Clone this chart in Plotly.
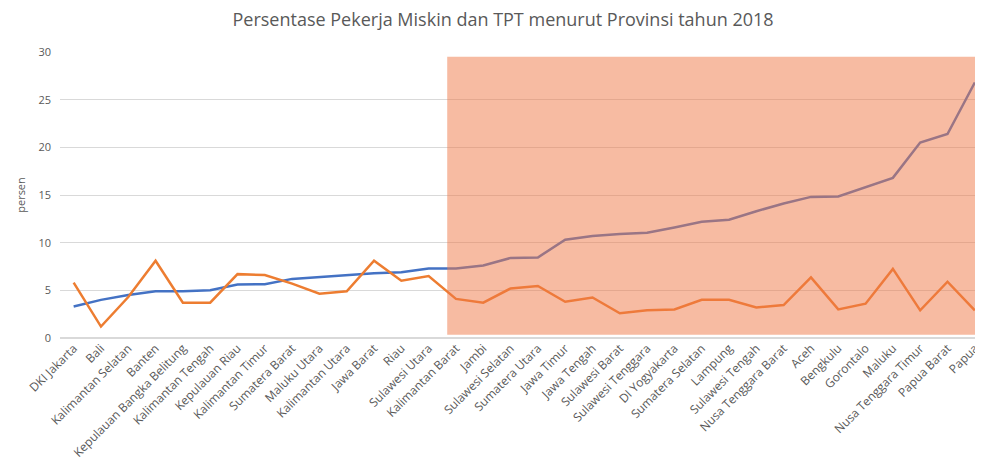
import plotly.graph_objects as go

provinces = [
    "DKI Jakarta", "Bali", "Kalimantan Selatan", "Banten", "Kepulauan Bangka Belitung",
    "Kalimantan Tengah", "Kepulauan Riau", "Kalimantan Timur", "Sumatera Barat", "Maluku Utara",
    "Kalimantan Utara", "Jawa Barat", "Riau", "Sulawesi Utara", "Kalimantan Barat",
    "Jambi", "Sulawesi Selatan", "Sumatera Utara", "Jawa Timur", "Jawa Tengah",
    "Sulawesi Barat", "Sulawesi Tenggara", "DI Yogyakarta", "Sumatera Selatan", "Lampung",
    "Sulawesi Tengah", "Nusa Tenggara Barat", "Aceh", "Bengkulu", "Gorontalo",
    "Maluku", "Nusa Tenggara Timur", "Papua Barat", "Papua",
]

pekerja_miskin = [
    3.3, 4.0, 4.5, 4.9, 4.9, 5.0, 5.6, 5.65, 6.2, 6.4,
    6.6, 6.8, 6.9, 7.3, 7.3, 7.6, 8.4, 8.45, 10.3, 10.7,
    10.9, 11.05, 11.6, 12.2, 12.4, 13.3, 14.1, 14.8, 14.85, 15.8,
    16.8, 20.5, 21.4, 26.8,
]

tpt = [
    5.8, 1.2, 4.3, 8.1, 3.7, 3.7, 6.7, 6.6, 5.7, 4.65,
    4.9, 8.1, 6.0, 6.5, 4.1, 3.7, 5.2, 5.45, 3.8, 4.25,
    2.6, 2.9, 3.0, 4.0, 4.0, 3.2, 3.45, 6.35, 3.0, 3.6,
    7.25, 2.9, 5.9, 2.9,
]

# highlighted range (from Kalimantan Barat to the end)
highlight_start = 13.68
highlight_top = 29.5

text_grey = "#595959"

fig = go.Figure()

fig.add_trace(go.Scatter(
    x=list(range(len(provinces))),
    y=pekerja_miskin,
    mode="lines",
    name="Pekerja Miskin",
    line=dict(color="#4472C4", width=2.5),
))

fig.add_trace(go.Scatter(
    x=list(range(len(provinces))),
    y=tpt,
    mode="lines",
    name="TPT",
    line=dict(color="#ED7D31", width=2.5),
))

fig.add_shape(
    type="rect",
    xref="x", yref="y",
    x0=highlight_start, x1=34,
    y0=0.35, y1=highlight_top,
    fillcolor="rgba(240,120,70,0.5)",
    line=dict(width=0),
    layer="above",
)

# the page body has an 8px margin, so the figure is a bit smaller than the window
fig.update_layout(
    width=975,
    height=468,
    template="plotly_white",
    plot_bgcolor="white",
    paper_bgcolor="white",
    showlegend=False,
    font=dict(family="Open Sans", color=text_grey, size=10),
    title=dict(
        text="Persentase Pekerja Miskin dan TPT menurut Provinsi tahun 2018",
        x=0.48, xanchor="center", xref="paper",
        y=0.975, yanchor="middle",
        font=dict(size=18, color=text_grey),
    ),
    margin=dict(l=52, r=0, t=44, b=138),
    xaxis=dict(
        tickmode="array",
        tickvals=list(range(len(provinces))),
        ticktext=provinces,
        tickangle=-45,
        range=[-0.5, 33.3],
        showgrid=False,
        zeroline=False,
        showline=False,
        tickfont=dict(size=12, color=text_grey),
    ),
    yaxis=dict(
        range=[0, 30],
        dtick=5,
        gridcolor="#d9d9d9",
        gridwidth=1,
        zeroline=True,
        zerolinecolor="#d9d9d9",
        showline=False,
        ticklabelstandoff=8,
        tickfont=dict(size=11, color=text_grey),
        title=dict(text="persen", font=dict(size=11, color=text_grey), standoff=10),
    ),
)

fig.write_html("out.html")
